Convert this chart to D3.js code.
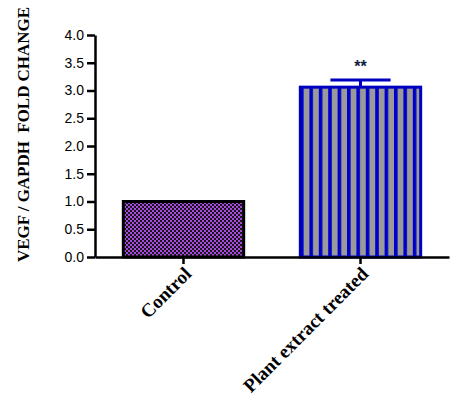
<html>
<head>
<script src="https://cdn.jsdelivr.net/npm/d3@7"></script>
<style>
  body { margin: 0; background: #fff; }
</style>
</head>
<body>
<div id="chart"></div>
<script type="text/javascript">
// data
const groups = ["Control", "Plant extract treated"];
const foldChange = [1.0, 3.06];
const errorUp = [0.0, 0.13];
const significance = ["", "**"];
const yTicks = [0, 0.5, 1, 1.5, 2, 2.5, 3, 3.5, 4];

const svg = d3.select("#chart").append("svg")
    .attr("width", 456)
    .attr("height", 398);

// fill patterns
const defs = svg.append("defs");
const checker = defs.append("pattern")
    .attr("id", "checker")
    .attr("patternUnits", "userSpaceOnUse")
    .attr("width", 4).attr("height", 4);
checker.append("rect").attr("width", 4).attr("height", 4).attr("fill", "#a848e0");
checker.append("rect").attr("width", 2).attr("height", 2).attr("fill", "#181818");
checker.append("rect").attr("x", 2).attr("y", 2).attr("width", 2).attr("height", 2).attr("fill", "#181818");

const stripes = defs.append("pattern")
    .attr("id", "stripes")
    .attr("patternUnits", "userSpaceOnUse")
    .attr("width", 9.4).attr("height", 10)
    .attr("x", 300);
stripes.append("rect").attr("width", 9.4).attr("height", 10).attr("fill", "#9a9a9a");
stripes.append("rect").attr("width", 3.6).attr("height", 10).attr("fill", "#0000c8");

const fills = ["url(#checker)", "url(#stripes)"];
const strokes = ["#000", "#0000c0"];

// scales
const x = d3.scaleBand().domain(groups).range([95, 449]).padding(0);
const y = d3.scaleLinear().domain([0, 4]).range([257, 35]);
const barW = x.bandwidth() * 0.68;

// bars
svg.selectAll("rect.bar")
    .data(groups)
    .enter()
    .append("rect")
    .attr("class", "bar")
    .attr("x", (d, i) => x(d) + x.bandwidth() / 2 - barW / 2)
    .attr("y", (d, i) => y(foldChange[i]))
    .attr("width", barW)
    .attr("height", (d, i) => y(0) - y(foldChange[i]))
    .attr("fill", (d, i) => fills[i])
    .attr("stroke", (d, i) => strokes[i])
    .attr("stroke-width", 3);

// error bar (upper only)
groups.forEach((g, i) => {
    if (errorUp[i] <= 0) return;
    const cx = x(g) + x.bandwidth() / 2;
    svg.append("line")
        .attr("x1", cx).attr("x2", cx)
        .attr("y1", y(foldChange[i])).attr("y2", y(foldChange[i] + errorUp[i]))
        .attr("stroke", strokes[i]).attr("stroke-width", 3);
    svg.append("line")
        .attr("x1", cx - barW / 4).attr("x2", cx + barW / 4)
        .attr("y1", y(foldChange[i] + errorUp[i])).attr("y2", y(foldChange[i] + errorUp[i]))
        .attr("stroke", strokes[i]).attr("stroke-width", 3);
    svg.append("text")
        .attr("x", cx).attr("y", y(foldChange[i] + errorUp[i]) - 8)
        .attr("text-anchor", "middle")
        .attr("font-family", "Liberation Sans, Arial, sans-serif")
        .attr("font-weight", "bold")
        .attr("font-size", 16)
        .attr("fill", "#102040")
        .text(significance[i]);
});

// y axis
const yAxis = svg.append("g")
    .attr("transform", "translate(95,0)")
    .call(d3.axisLeft(y).tickValues(yTicks).tickFormat(d3.format(".1f")).tickSize(8).tickSizeOuter(0).tickPadding(3));
yAxis.select(".domain").attr("stroke-width", 2.5);
yAxis.selectAll(".tick line").attr("stroke-width", 2.5);
yAxis.selectAll(".tick text")
    .attr("font-family", "Liberation Sans, Arial, sans-serif")
    .attr("font-size", 14)
    .attr("fill", "#000");

// x axis
const xAxis = svg.append("g")
    .attr("transform", "translate(0,257)")
    .call(d3.axisBottom(x).tickSize(7).tickSizeOuter(0));
xAxis.select(".domain").attr("stroke-width", 2.5);
xAxis.selectAll(".tick line").attr("stroke-width", 2.5);
xAxis.selectAll(".tick text")
    .attr("font-family", "Liberation Serif, Times New Roman, serif")
    .attr("font-weight", "bold")
    .attr("font-size", 19)
    .attr("fill", "#000")
    .attr("text-anchor", "end")
    .attr("dy", null)
    .attr("y", 0)
    .attr("transform", "translate(9,18) rotate(-45)");

// y axis title
svg.append("text")
    .attr("transform", "translate(29,262) rotate(-90)")
    .attr("font-family", "Liberation Serif, Times New Roman, serif")
    .attr("font-weight", "bold")
    .attr("font-size", 17)
    .attr("textLength", 255)
    .attr("lengthAdjust", "spacingAndGlyphs")
    .attr("xml:space", "preserve")
    .style("white-space", "pre")
    .text("VEGF / GAPDH  FOLD CHANGE");
</script>
</body>
</html>
